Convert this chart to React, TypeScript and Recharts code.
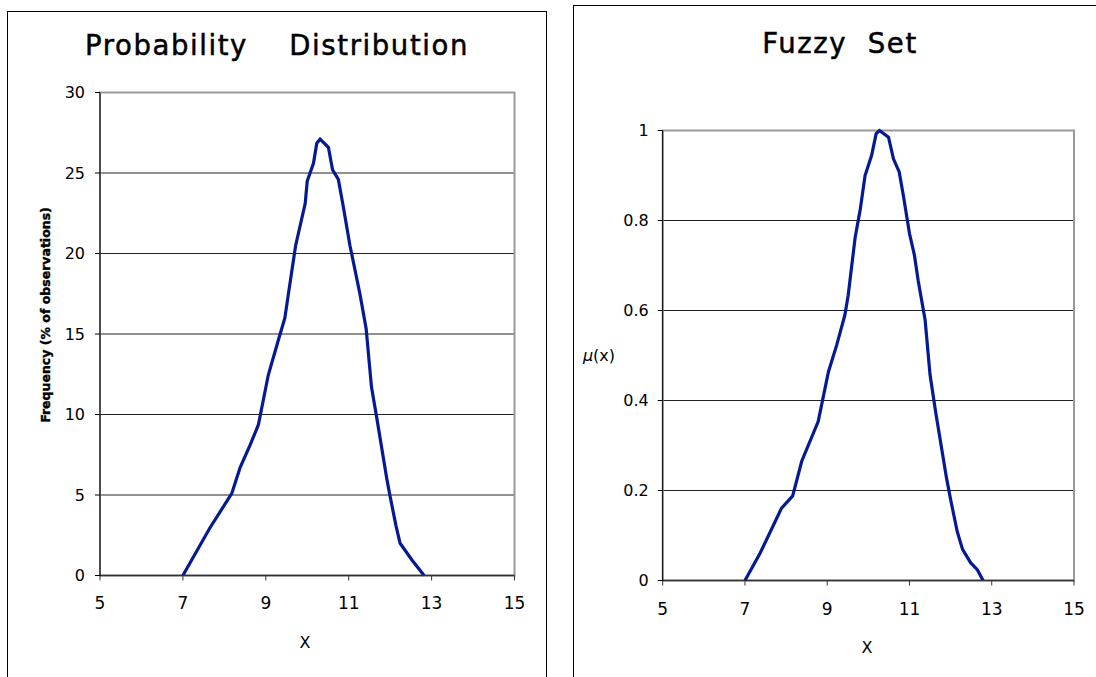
import React from 'react';
import {
  LineChart,
  Line,
  XAxis,
  YAxis,
  CartesianGrid,
  ReferenceArea
} from 'recharts';

// probability distribution (% of observations)
const probX = [7.0, 7.65, 8.18, 8.38, 8.62, 8.82, 9.06, 9.3, 9.46, 9.54, 9.72, 9.95, 10.0, 10.15, 10.23, 10.31, 10.51, 10.61, 10.75, 10.87, 11.03, 11.27, 11.42, 11.55, 11.67, 11.92, 12.0, 12.14, 12.24, 12.53, 12.82];
const probY = [0, 2.95, 5.1, 6.7, 8.1, 9.35, 12.45, 14.6, 16.0, 17.4, 20.5, 23.1, 24.5, 25.6, 26.85, 27.1, 26.6, 25.2, 24.6, 22.9, 20.5, 17.5, 15.35, 11.7, 9.9, 6.0, 4.9, 3.1, 2.0, 0.95, 0];

// membership function
const fuzzyX = [7.0, 7.37, 7.89, 8.16, 8.38, 8.78, 9.03, 9.23, 9.43, 9.51, 9.68, 9.8, 9.92, 10.08, 10.19, 10.27, 10.49, 10.61, 10.75, 10.85, 11.0, 11.12, 11.21, 11.38, 11.5, 11.64, 11.9, 12.0, 12.16, 12.29, 12.49, 12.65, 12.79];
const fuzzyY = [0, 0.061, 0.161, 0.188, 0.265, 0.353, 0.464, 0.523, 0.59, 0.634, 0.763, 0.823, 0.9, 0.945, 0.993, 1.0, 0.985, 0.937, 0.908, 0.856, 0.771, 0.723, 0.667, 0.579, 0.457, 0.372, 0.228, 0.18, 0.109, 0.069, 0.039, 0.024, 0];

const xTicks = [5, 7, 9, 11, 13, 15];
const probTicks = [0, 5, 10, 15, 20, 25, 30];
const fuzzyTicks = [0, 0.2, 0.4, 0.6, 0.8, 1];

const probData = probX.map((x, i) => ({ x, y: probY[i] }));
const fuzzyData = fuzzyX.map((x, i) => ({ x, y: fuzzyY[i] }));

const FONT = '"DejaVu Sans", Verdana, sans-serif';
const LINE = '#041a94';

const abs = (s: React.CSSProperties): React.CSSProperties => ({ position: 'absolute', ...s });

const titleStyle: React.CSSProperties = {
  textAlign: 'center',
  fontSize: 27.5,
  lineHeight: '27px',
  letterSpacing: 1.6,
  whiteSpace: 'pre',
  WebkitTextStroke: '0.5px #000'
};

export default function App() {
  return (
    <div style={abs({ left: 0, top: 0, width: 1096, height: 677, overflow: 'hidden', background: '#fff', fontFamily: FONT, color: '#000' })}>
      {/* panel frames */}
      <div style={abs({ left: 7, top: 11, width: 538, height: 700, border: '1px solid #000' })} />
      <div style={abs({ left: 573, top: 5, width: 600, height: 700, border: '1px solid #000' })} />

      {/* left chart */}
      <div style={abs({ left: 0, top: 0 })}>
        <LineChart width={546} height={677} data={probData} margin={{ top: 92.5, right: 31.5, bottom: 71.5, left: 0 }}>
          <CartesianGrid horizontal vertical={false} stroke="#222" />
          <ReferenceArea x1={5} x2={15} y1={0} y2={30} fill="none" stroke="#999" strokeWidth={2} />
          <XAxis
            dataKey="x"
            type="number"
            domain={[5, 15]}
            ticks={xTicks}
            height={30}
            tickSize={5}
            tickMargin={16}
            axisLine={{ stroke: '#333', strokeWidth: 1.5 }}
            tickLine={{ stroke: '#333' }}
            tick={{ fill: '#000', fontSize: 17, fontFamily: FONT }}
          />
          <YAxis
            type="number"
            domain={[0, 30]}
            ticks={probTicks}
            width={100}
            tickSize={5}
            tickMargin={10}
            axisLine={{ stroke: '#000' }}
            tickLine={{ stroke: '#000' }}
            tick={{ fill: '#000', fontSize: 16, fontFamily: FONT }}
          />
          <Line dataKey="y" type="linear" stroke={LINE} strokeWidth={3.2} dot={false} isAnimationActive={false} />
        </LineChart>
      </div>

      {/* right chart */}
      <div style={abs({ left: 560, top: 0 })}>
        <LineChart width={536} height={677} data={fuzzyData} margin={{ top: 130.5, right: 22, bottom: 66.5, left: 0 }}>
          <CartesianGrid horizontal vertical={false} stroke="#222" />
          <ReferenceArea x1={5} x2={15} y1={0} y2={1} fill="none" stroke="#999" strokeWidth={2} />
          <XAxis
            dataKey="x"
            type="number"
            domain={[5, 15]}
            ticks={xTicks}
            height={30}
            tickSize={5}
            tickMargin={17}
            axisLine={{ stroke: '#333', strokeWidth: 1.5 }}
            tickLine={{ stroke: '#333' }}
            tick={{ fill: '#000', fontSize: 17, fontFamily: FONT }}
          />
          <YAxis
            type="number"
            domain={[0, 1]}
            ticks={fuzzyTicks}
            width={102.7}
            tickSize={5}
            tickMargin={9}
            axisLine={{ stroke: '#000' }}
            tickLine={{ stroke: '#000' }}
            tick={{ fill: '#000', fontSize: 16, fontFamily: FONT }}
          />
          <Line dataKey="y" type="linear" stroke={LINE} strokeWidth={3.2} dot={false} isAnimationActive={false} />
        </LineChart>
      </div>

      {/* titles */}
      <div style={abs({ left: 7, top: 32, width: 540, ...titleStyle })}>
        {'Probability    Distribution'}
      </div>
      <div style={abs({ left: 740, top: 30, width: 200, ...titleStyle })}>
        {'Fuzzy  Set'}
      </div>

      {/* axis labels */}
      <div style={abs({ left: 45, top: 315, transform: 'translate(-50%, -50%) rotate(-90deg)', fontSize: 12.5, fontWeight: 'bold', whiteSpace: 'nowrap', WebkitTextStroke: '0.4px #000' })}>
        Frequency (% of observations)
      </div>
      <div style={abs({ left: 599, top: 355, transform: 'translate(-50%, -50%)', fontSize: 16, whiteSpace: 'nowrap' })}>
        <i>μ</i>(x)
      </div>
      <div style={abs({ left: 305, top: 642, transform: 'translate(-50%, -50%)', fontSize: 16 })}>X</div>
      <div style={abs({ left: 867, top: 647, transform: 'translate(-50%, -50%)', fontSize: 16 })}>X</div>
    </div>
  );
}
